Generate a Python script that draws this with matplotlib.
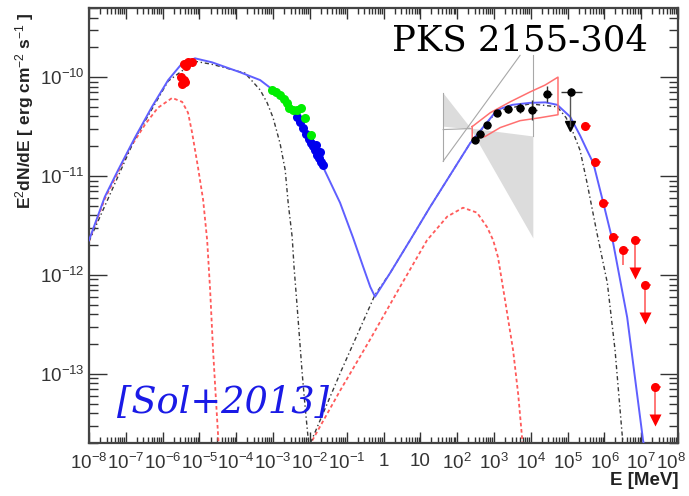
import numpy as np
import matplotlib
matplotlib.use('Agg')
import matplotlib.pyplot as plt
from matplotlib.ticker import FixedLocator, LogLocator, NullFormatter, FixedFormatter
from matplotlib.transforms import ScaledTranslation

plt.rcParams['font.family'] = ['Liberation Sans', 'DejaVu Sans']
plt.rcParams['mathtext.fontset'] = 'custom'
plt.rcParams['mathtext.rm'] = 'Liberation Sans'
plt.rcParams['mathtext.it'] = 'Liberation Sans:italic'
plt.rcParams['mathtext.bf'] = 'Liberation Sans:bold'

# ---- model curves (log10 E [MeV], log10 E^2 dN/dE) ----
tot_logE = [-8.0, -7.57, -7.21, -6.75, -6.29, -5.85, -5.47, -5.12, -4.66, -3.90, -3.35, -3.00,
            -2.54, -2.08, -1.64, -1.18, -0.83, -0.55, -0.36, -0.23, 0.18, 0.72, 1.27, 1.81,
            2.35, 3.09, 3.50, 3.98, 4.40, 4.72, 5.07, 5.34, 5.53, 5.70, 5.97, 6.24, 6.62,
            7.05, 7.12]
tot_logF = [-11.65, -11.21, -10.94, -10.61, -10.30, -10.03, -9.86, -9.81, -9.85, -9.95, -10.03,
            -10.13, -10.30, -10.56, -10.91, -11.27, -11.62, -11.92, -12.12, -12.22, -11.98,
            -11.65, -11.31, -10.99, -10.67, -10.33, -10.28, -10.26, -10.255, -10.28, -10.40,
            -10.59, -10.74, -10.87, -11.27, -11.68, -12.43, -13.67, -13.80]

syn2_logE = [-8.0, -6.75, -5.85, -5.12, -4.66, -3.76, -3.35, -3.16, -3.00, -2.81, -2.67, -2.59,
             -2.48, -2.43, -2.35, -2.21, -2.13, -2.05, -2.01]
syn2_logF = [-11.66, -10.62, -10.04, -9.84, -9.87, -9.96, -10.13, -10.26, -10.41, -10.67,
             -10.94, -11.27, -11.62, -11.92, -12.30, -12.99, -13.33, -13.64, -13.80]

syn1_logE = [-8.0, -7.57, -7.21, -6.89, -6.48, -6.13, -5.74, -5.47, -5.31, -5.20, -5.04, -4.90,
             -4.79, -4.71, -4.63, -4.55, -4.49, -4.46]
syn1_logF = [-11.66, -11.23, -10.96, -10.72, -10.48, -10.31, -10.21, -10.25, -10.36, -10.56,
             -10.91, -11.24, -11.65, -12.15, -12.76, -13.27, -13.64, -13.82]

ic2_logE = [-2.10, -1.15, -0.23, 0.18, 0.72, 1.27, 1.81, 2.35, 3.09, 3.98, 4.72, 4.96, 5.15,
            5.34, 5.53, 5.80, 6.08, 6.29, 6.48, 6.54]
ic2_logF = [-13.80, -12.97, -12.20, -11.98, -11.65, -11.31, -10.99, -10.67, -10.34, -10.27,
            -10.30, -10.41, -10.56, -10.74, -11.07, -11.58, -12.08, -12.76, -13.60, -13.82]

ic1_logE = [-2.02, -1.18, -0.36, 0.45, 1.18, 1.73, 2.16, 2.54, 2.82, 2.98, 3.11, 3.30, 3.52,
            3.66, 3.77, 3.80]
ic1_logF = [-13.73, -13.17, -12.65, -12.12, -11.65, -11.41, -11.32, -11.37, -11.52, -11.65,
            -11.82, -12.25, -12.76, -13.21, -13.67, -13.82]

# ---- data ----
opt_logE = [-5.42, -5.31, -5.20, -5.36, -5.50, -5.42, -5.47, -5.39]
opt_logF = [-9.87, -9.85, -9.85, -9.89, -10.00, -10.03, -10.07, -10.05]

uvx_logE = [-3.03, -2.92, -2.81, -2.70, -2.62, -2.57, -2.46, -2.35, -2.24, -2.13, -1.97]
uvx_logF = [-10.13, -10.15, -10.18, -10.22, -10.26, -10.31, -10.33, -10.33, -10.31, -10.41, -10.59]

xray_logE = [-2.35, -2.27, -2.18, -2.10, -2.02, -1.97, -1.91, -1.86, -1.80, -1.75, -1.70,
             -1.64, -1.83, -1.72]
xray_logF = [-10.40, -10.45, -10.51, -10.57, -10.63, -10.67, -10.70, -10.74, -10.79, -10.82,
             -10.86, -10.89, -10.69, -10.76]

lat_logE = [2.49, 2.62, 2.82, 3.09, 3.39, 3.71, 4.04, 4.45, 5.10]
lat_logF = [-10.64, -10.57, -10.48, -10.36, -10.32, -10.31, -10.33, -10.17, -10.15]
lat_yerr = [0.03, 0.03, 0.03, 0.03, 0.04, 0.05, 0.10, 0.08, 0.04]
lat_xerr = [0.10, 0.10, 0.10, 0.10, 0.10, 0.10, 0.12, 0.12, 0.28]
lat_ul_logE = [5.07]
lat_ul_logF = [-10.49]

hess_logE = [5.48, 5.75, 5.97, 6.24, 6.51]
hess_logF = [-10.49, -10.86, -11.27, -11.62, -11.75]
hess_yerr_lo = [0.02, 0.02, 0.03, 0.04, 0.15]
hess_ul_logE = [6.84, 7.11, 7.38]
hess_ul_top = [-11.65, -12.10, -13.13]
hess_ul_bot = [-11.98, -12.44, -13.47]

bow_logE = [2.41, 2.90, 3.44, 3.98, 4.39, 4.74, 4.74, 4.26, 3.71, 3.17, 2.76, 2.41, 2.41]
bow_logF = [-10.50, -10.36, -10.25, -10.15, -10.08, -10.00, -10.38, -10.41, -10.44, -10.51,
            -10.60, -10.63, -10.50]

grey_logE = [1.62, 2.38, 4.07, 4.07, 2.38, 1.62]
grey_logF = [-10.16, -10.52, -10.60, -11.63, -10.53, -10.50]
grey_line_logE = [[1.62, 1.62], [1.62, 3.71], [4.07, 4.07], [1.62, 2.38]]
grey_line_logF = [[-10.16, -10.85], [-10.85, -9.78], [-9.78, -10.60], [-10.53, -10.52]]

xtick_pows = list(range(-8, 9))
xtick_labels = ['$10^{-8}$', '$10^{-7}$', '$10^{-6}$', '$10^{-5}$', '$10^{-4}$', '$10^{-3}$',
                '$10^{-2}$', '$10^{-1}$', '1', '10', '$10^{2}$', '$10^{3}$', '$10^{4}$',
                '$10^{5}$', '$10^{6}$', '$10^{7}$', '$10^{8}$']
ytick_pows = [-13, -12, -11, -10]
ytick_labels = ['$10^{-13}$', '$10^{-12}$', '$10^{-11}$', '$10^{-10}$']


def p(a):
    return 10.0 ** np.array(a)


fig = plt.figure(figsize=(6.89, 4.96), dpi=100)
ax = fig.add_axes([89/689, 1-443/496, 589/689, 435/496])
ax.set_xscale('log')
ax.set_yscale('log')

# grey bowtie + outline
ax.fill(p(grey_logE), p(grey_logF), color='#dcdcdc', lw=0, zorder=1)
for xs, ys in zip(grey_line_logE, grey_line_logF):
    ax.plot(p(xs), p(ys), color='#a8a8a8', lw=0.8, zorder=1.5)

# model curves
ax.plot(p(syn1_logE), p(syn1_logF), color='#ff5a5a', lw=1.3, ls=(0, (2, 1.5)), zorder=2)
ax.plot(p(ic1_logE), p(ic1_logF), color='#ff5a5a', lw=1.3, ls=(0, (2, 1.5)), zorder=2)
ax.plot(p(syn2_logE), p(syn2_logF), color='#3a3a3a', lw=1.0, ls=(0, (3, 2, 1, 2)), zorder=2)
ax.plot(p(ic2_logE), p(ic2_logF), color='#3a3a3a', lw=1.0, ls=(0, (3, 2, 1, 2)), zorder=2)
ax.plot(p(tot_logE), p(tot_logF), color='#5f5fff', lw=1.4, zorder=3)

# red LAT butterfly
ax.plot(p(bow_logE), p(bow_logF), color='#ff7070', lw=1.1, zorder=3.5)

# data
ax.plot(p(opt_logE), p(opt_logF), 'o', color='#ff0000', ms=6.5, mec='none', zorder=4)
ax.plot(p(xray_logE), p(xray_logF), 'o', color='#0000ee', ms=6.5, mec='none', zorder=4)
ax.plot(p(uvx_logE), p(uvx_logF), 'o', color='#00ee00', ms=6.5, mec='none', zorder=4.1)

lE = np.array(lat_logE)
lF = np.array(lat_logF)
ax.errorbar(p(lE), p(lF),
            xerr=[p(lE) - p(lE - np.array(lat_xerr)), p(lE + np.array(lat_xerr)) - p(lE)],
            yerr=[p(lF) - p(lF - np.array(lat_yerr)), p(lF + np.array(lat_yerr)) - p(lF)],
            fmt='o', color='black', ecolor='#333333', elinewidth=1, ms=5, capsize=0, zorder=5)
ax.plot(p(lat_ul_logE), p(lat_ul_logF), 'v', color='black', ms=7, zorder=5)
ax.plot([p(lat_ul_logE[0])] * 2, [p(lat_logF[-1]), p(lat_ul_logF[0])], color='#555555', lw=1,
        zorder=5)

hE = np.array(hess_logE)
hF = np.array(hess_logF)
ax.errorbar(p(hE), p(hF),
            xerr=[p(hE) - p(hE - 0.08), p(hE + 0.15) - p(hE)],
            yerr=[p(hF) - p(hF - np.array(hess_yerr_lo)), np.zeros(len(hF))],
            fmt='o', color='#ff0000', ecolor='#ff6060', elinewidth=1.2, ms=6.5, mec='none',
            capsize=0, zorder=5)
uE = np.array(hess_ul_logE)
ax.errorbar(p(uE), p(hess_ul_top), xerr=[p(uE) - p(uE - 0.08), p(uE + 0.15) - p(uE)],
            fmt='o', color='#ff0000', ecolor='#ff6060', elinewidth=1.2, ms=6.5, mec='none',
            capsize=0, zorder=5)
for e, t, b in zip(hess_ul_logE, hess_ul_top, hess_ul_bot):
    ax.plot([p(e), p(e)], [p(t), p(b)], color='#ff6060', lw=1.2, zorder=5)
ax.plot(p(hess_ul_logE), p(hess_ul_bot), 'v', color='#ff0000', ms=9, mec='none', zorder=5)

ax.set_xlim(1e-8, 1e8)
ax.set_ylim(2e-14, 5e-10)

# axes / ticks ROOT style
ax.xaxis.set_major_locator(FixedLocator(p(xtick_pows)))
ax.xaxis.set_major_formatter(FixedFormatter(xtick_labels))
ax.xaxis.set_minor_locator(LogLocator(base=10, subs=np.arange(2, 10), numticks=200))
ax.xaxis.set_minor_formatter(NullFormatter())
ax.yaxis.set_major_locator(FixedLocator(p(ytick_pows)))
ax.yaxis.set_major_formatter(FixedFormatter(ytick_labels))
ax.yaxis.set_minor_locator(LogLocator(base=10, subs=np.arange(2, 10), numticks=200))
ax.yaxis.set_minor_formatter(NullFormatter())
ax.tick_params(which='both', direction='in', top=True, right=True, colors='#333333',
               labelcolor='#333333', labelsize=13.5, width=1.0)
ax.tick_params(axis='x', which='major', length=8, pad=7)
ax.tick_params(axis='x', which='minor', length=4)
ax.tick_params(axis='y', which='major', length=13, pad=3)
ax.tick_params(axis='y', which='minor', length=6.5)
for s in ax.spines.values():
    s.set_linewidth(1.6)
    s.set_color('#444444')
# last x label would run off the right edge: nudge it a few pixels left
last_lab = ax.xaxis.get_major_ticks()[-1].label1
last_lab.set_transform(last_lab.get_transform() + ScaledTranslation(-7/100, 0, fig.dpi_scale_trans))

ax.set_ylabel('E$^{2}$dN/dE [ erg cm$^{-2}$ s$^{-1}$ ]', fontsize=12.5, fontweight='bold',
              loc='top', color='#222222')
ax.yaxis.set_label_coords(-0.09, 0.989)
ax.set_xlabel('E [MeV]', fontsize=13.5, fontweight='bold', loc='right', color='#222222')
ax.xaxis.set_label_coords(1.0, -0.066)

ax.text(0.949, 0.926, 'PKS 2155-304', transform=ax.transAxes, ha='right', va='center',
        fontsize=25.5, family='DejaVu Serif', color='black')
ax.text(0.0475, 0.092, '[Sol+2013]', transform=ax.transAxes, ha='left', va='center',
        fontsize=26.5, family='DejaVu Serif', style='italic', color='#1a1ae6')

fig.savefig('out.png', dpi=100)
